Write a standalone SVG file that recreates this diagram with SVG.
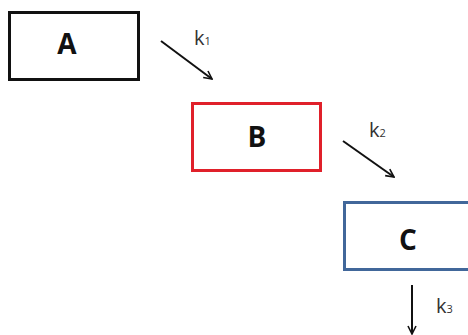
<svg xmlns="http://www.w3.org/2000/svg" width="468" height="335" viewBox="0 0 468 335">
<style>
.box{fill:#fff;stroke-width:3}
.lbl{font-family:"Open Sans","Liberation Sans",sans-serif;font-weight:bold;font-size:28px;text-anchor:middle;fill:#111}
.k{font-family:"Open Sans","Liberation Sans",sans-serif;font-size:20px;fill:#333}
.k tspan{font-size:11px}
.arr{stroke:#111;stroke-width:2;fill:none;marker-end:url(#ah)}
</style>
<defs>
<marker id="ah" viewBox="0 0 10 10" refX="9" refY="5" markerWidth="5" markerHeight="5" orient="auto" markerUnits="strokeWidth">
<path d="M1,1 L9,5 L1,9" fill="none" stroke="#111" stroke-width="1.6"/>
</marker>
</defs>
<rect width="468" height="335" fill="#fff"/>
<g id="A">
<rect class="box" x="9.5" y="12.5" width="129" height="67" stroke="#111"/>
<text class="lbl" x="67" y="54">A</text>
</g>
<g id="B">
<rect class="box" x="192.5" y="103.5" width="128" height="67" stroke="#e0202a"/>
<text class="lbl" x="257" y="147">B</text>
</g>
<g id="C">
<rect class="box" x="344.5" y="202.5" width="130" height="67" stroke="#41679a"/>
<text class="lbl" x="408" y="250">C</text>
</g>
<g id="connectors">
<line class="arr" x1="161" y1="41" x2="212" y2="79"/>
<line class="arr" x1="343" y1="141" x2="394" y2="177"/>
<line class="arr" x1="412" y1="285" x2="412" y2="334"/>
</g>
<g id="labels">
<text class="k" x="194" y="45">k<tspan dy="0">1</tspan></text>
<text class="k" x="369" y="137">k<tspan dy="0">2</tspan></text>
<text class="k" x="436" y="313">k<tspan dy="0">3</tspan></text>
</g>
</svg>
